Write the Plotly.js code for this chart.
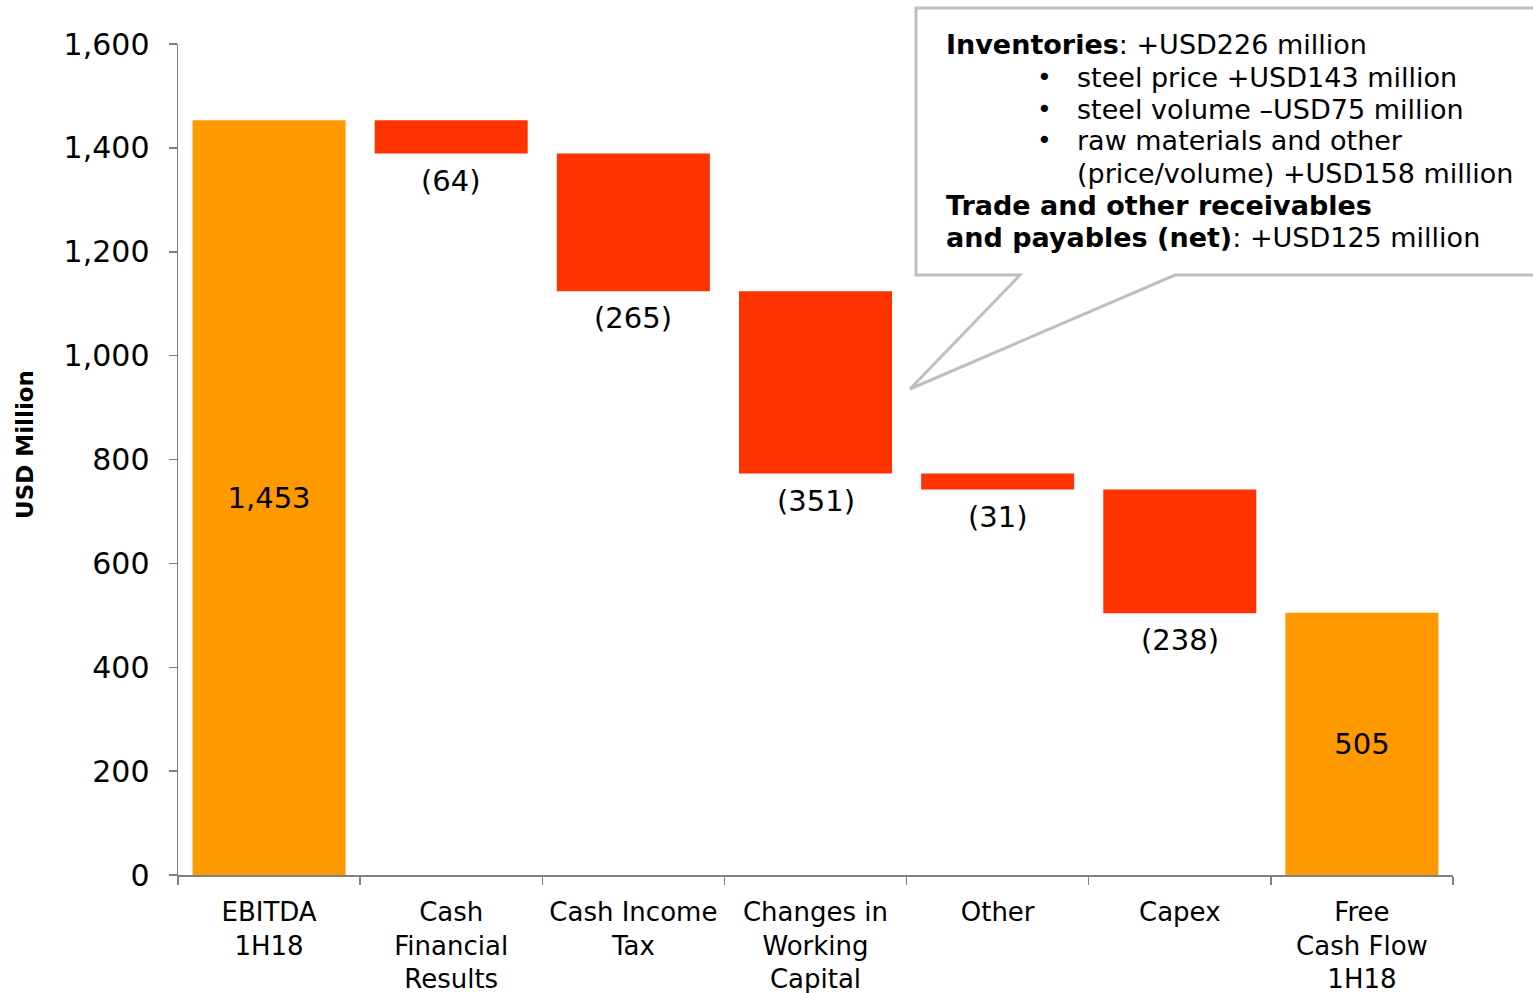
<!DOCTYPE html>
<html>
<head>
<meta charset="utf-8">
<script src="https://cdn.plot.ly/plotly-3.0.1.min.js"></script>
<style>html,body{margin:0;padding:0;background:#fff;}#chart{width:1533px;height:993px;}</style>
</head>
<body>
<div id="chart"></div>
<script>
const categories = ["EBITDA<br>1H18", "Cash<br>Financial<br>Results", "Cash Income<br>Tax", "Changes in<br>Working<br>Capital", "Other", "Capex", "Free<br>Cash Flow<br>1H18"];
const measures = ["absolute", "relative", "relative", "relative", "relative", "relative", "absolute"];
const values = [1453, -64, -265, -351, -31, -238, 505];
const valueLabels = ["1,453", "(64)", "(265)", "(351)", "(31)", "(238)", "505"];
const yTicks = [0, 200, 400, 600, 800, 1000, 1200, 1400, 1600];
const calloutLines = [
  {text: "<b>Inventories</b>: +USD226 million", indent: 0},
  {text: "steel price +USD143 million", indent: 1, bullet: true},
  {text: "steel volume \u2013USD75 million", indent: 1, bullet: true},
  {text: "raw materials and other", indent: 1, bullet: true},
  {text: "(price/volume) +USD158 million", indent: 1},
  {text: "<b>Trade and other receivables</b>", indent: 0},
  {text: "<b>and payables (net)</b>: +USD125 million", indent: 0}
];

const FONT = "DejaVu Sans, Verdana, sans-serif";
const ORANGE = "#FF9900";
const RED = "#FF3300";

// plot area in px
const L = 178, R = 1453, T = 44, B = 875;
const W = R - L, H = B - T;
const px = x => (x - L) / W;
const py = y => (B - y) / H;

const trace = {
  type: "waterfall",
  x: categories,
  y: values,
  measure: measures,
  text: valueLabels.map((t, i) => measures[i] === "absolute" ? t : ""),
  textinfo: "text",
  textposition: "inside",
  insidetextanchor: "middle",
  constraintext: "none",
  cliponaxis: false,
  insidetextfont: {family: FONT, size: 29, color: "#000"},
  totals: {marker: {color: ORANGE}},
  decreasing: {marker: {color: RED}},
  increasing: {marker: {color: ORANGE}},
  connector: {visible: false},
  hoverinfo: "skip"
};

const annotations = [];
// labels below the decreasing bars, at the bottom of each bar
let running = 0;
values.forEach((v, i) => {
  if (measures[i] === "absolute") { running = v; return; }
  running += v;
  annotations.push({
    xref: "x", yref: "y", x: categories[i], y: Math.min(running, running - v),
    text: valueLabels[i], showarrow: false, xanchor: "center", yanchor: "middle",
    yshift: -27, font: {family: FONT, size: 29, color: "#000"}
  });
});
annotations.push({
  xref: "paper", yref: "paper", x: px(25), y: py(445), text: "<b>USD Million</b>",
  textangle: -90, showarrow: false, xanchor: "center", yanchor: "middle",
  font: {family: FONT, size: 23, color: "#000"}
});
const lineY0 = 45, lineStep = 32;
calloutLines.forEach((ln, i) => {
  const yy = lineY0 + i * lineStep;
  annotations.push({
    xref: "paper", yref: "paper", x: px(ln.indent ? 1075 : 944), y: py(yy),
    text: ln.text, showarrow: false, xanchor: "left", yanchor: "middle",
    font: {family: FONT, size: 27, color: "#000"}
  });
  if (ln.bullet) {
    annotations.push({
      xref: "paper", yref: "paper", x: px(1044), y: py(yy),
      text: "\u2022", showarrow: false, xanchor: "center", yanchor: "middle",
      font: {family: FONT, size: 25, color: "#000"}
    });
  }
});

const calloutPath = "M " + px(1020) + "," + py(275) +
  " L " + px(916) + "," + py(275) +
  " L " + px(916) + "," + py(8) +
  " L " + px(1545) + "," + py(8) +
  " L " + px(1545) + "," + py(275) +
  " L " + px(1175) + "," + py(275) +
  " L " + px(910) + "," + py(389) + " Z";

const layout = {
  width: 1533, height: 993,
  margin: {l: L, r: 1533 - R, t: T, b: 993 - B, pad: 0},
  paper_bgcolor: "#fff", plot_bgcolor: "#fff",
  showlegend: false,
  waterfallgap: 0.16,
  font: {family: FONT, color: "#000"},
  xaxis: {
    type: "category",
    tickson: "boundaries",
    ticks: "outside", ticklen: 8, tickcolor: "#808080", tickwidth: 1.5,
    showline: true, linecolor: "#808080", linewidth: 1.5,
    showgrid: false, zeroline: false,
    ticklabelstandoff: 13,
    tickfont: {family: FONT, size: 26, color: "#000"},
    automargin: false
  },
  yaxis: {
    range: [0, 1600],
    tickvals: yTicks,
    ticktext: yTicks.map(v => v.toLocaleString("en-US")),
    ticks: "outside", ticklen: 8, tickcolor: "#808080", tickwidth: 1.5,
    showline: true, linecolor: "#808080", linewidth: 1.5,
    showgrid: false, zeroline: false,
    ticklabelstandoff: 13,
    tickfont: {family: FONT, size: 30, color: "#000"},
    automargin: false
  },
  shapes: [{
    type: "path", xref: "paper", yref: "paper", path: calloutPath,
    fillcolor: "#fff", line: {color: "#BFBFBF", width: 3}, layer: "above"
  }],
  annotations: annotations
};

Plotly.newPlot("chart", [trace], layout, {displayModeBar: false, staticPlot: true});
</script>
</body>
</html>
